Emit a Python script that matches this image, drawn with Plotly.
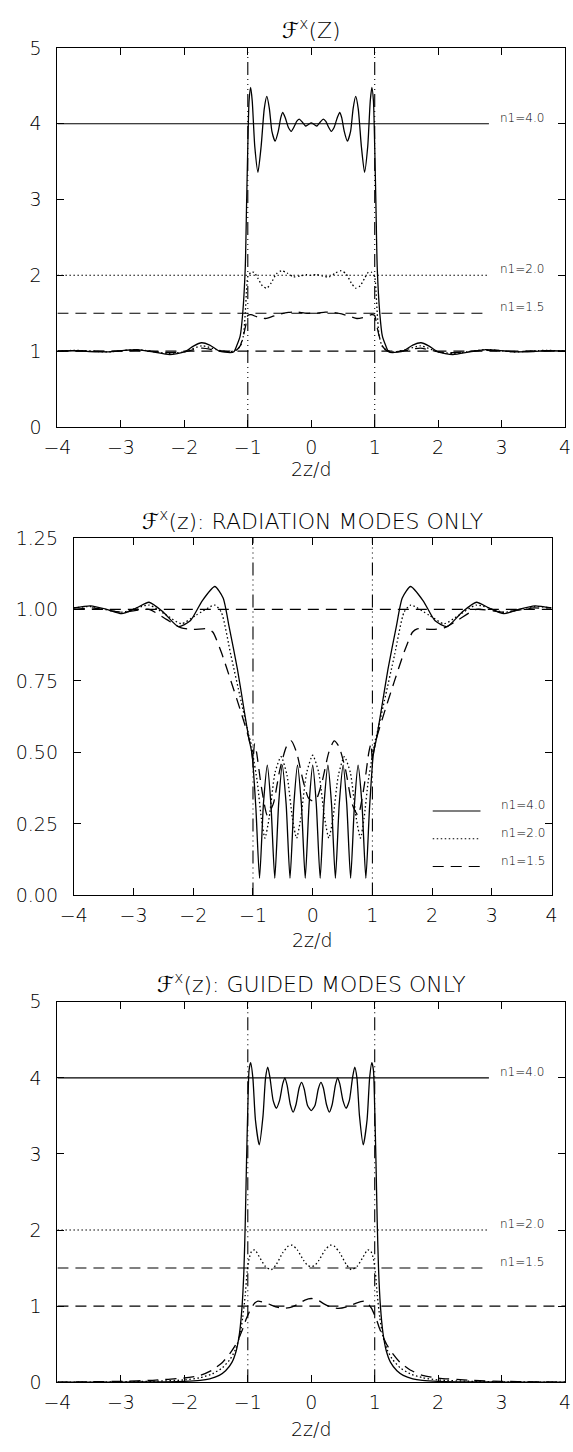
import plotly.graph_objects as go

# ---------------- data ----------------
x_ticks = [-4, -3, -2, -1, 0, 1, 2, 3, 4]
core_edges = [-1.0, 1.0]
n1_labels = ["n1=4.0", "n1=2.0", "n1=1.5"]
n1_values = [4.0, 2.0, 1.5]
vacuum_level = 1.0

# Panel 1: total F^x(z)
p1_x_n40 = [-4.0, -3.75, -3.5, -3.2, -2.95, -2.75, -2.5, -2.23, -2.0, -1.85, -1.73, -1.6, -1.45, -1.28,
            -1.22, -1.17, -1.12, -1.08, -1.04, -1.02, -1.0, -0.98, -0.955, -0.93, -0.89, -0.84, -0.79,
            -0.74, -0.70, -0.66, -0.62, -0.57, -0.52, -0.48, -0.45, -0.41, -0.36, -0.315, -0.27, -0.23,
            -0.19, -0.14, -0.09, -0.045, 0.0,
            0.045, 0.09, 0.14, 0.19, 0.23, 0.27, 0.315, 0.36, 0.41, 0.45, 0.48, 0.52, 0.57, 0.62, 0.66,
            0.70, 0.74, 0.79, 0.84, 0.89, 0.93, 0.955, 0.98, 1.0, 1.02, 1.04, 1.08, 1.12, 1.17, 1.22,
            1.28, 1.45, 1.6, 1.73, 1.85, 2.0, 2.23, 2.5, 2.75, 2.95, 3.2, 3.5, 3.75, 4.0]
p1_y_n40 = [1.0, 1.005, 0.995, 0.99, 1.01, 1.02, 0.99, 0.955, 0.99, 1.07, 1.11, 1.08, 1.0, 0.98,
            0.99, 1.08, 1.2, 1.5, 2.1, 2.9, 3.7, 4.3, 4.48, 4.3, 3.7, 3.36, 3.7,
            4.2, 4.36, 4.2, 3.9, 3.77, 3.9, 4.08, 4.15, 4.08, 3.95, 3.9, 3.96, 4.03,
            4.06, 4.02, 3.97, 3.99, 4.01,
            3.99, 3.97, 4.02, 4.06, 4.03, 3.96, 3.9, 3.95, 4.08, 4.15, 4.08, 3.9, 3.77, 3.9, 4.2,
            4.36, 4.2, 3.7, 3.36, 3.7, 4.3, 4.48, 4.3, 3.7, 2.9, 2.1, 1.5, 1.2, 1.08, 0.99,
            0.98, 1.0, 1.08, 1.11, 1.07, 0.99, 0.955, 0.99, 1.02, 1.01, 0.99, 0.995, 1.005, 1.0]

p1_x_n20 = [-4.0, -3.7, -3.2, -2.75, -2.25, -2.0, -1.72, -1.5, -1.3, -1.2, -1.12, -1.07, -1.04, -1.02,
            -1.0, -0.95, -0.9, -0.84, -0.77, -0.70, -0.63, -0.55, -0.47, -0.38, -0.28, -0.18, -0.08, 0.0,
            0.08, 0.18, 0.28, 0.38, 0.47, 0.55, 0.63, 0.70, 0.77, 0.84, 0.9, 0.95, 1.0,
            1.02, 1.04, 1.07, 1.12, 1.2, 1.3, 1.5, 1.72, 2.0, 2.25, 2.75, 3.2, 3.7, 4.0]
p1_y_n20 = [1.0, 1.01, 0.99, 1.02, 0.97, 0.99, 1.07, 1.02, 0.99, 1.01, 1.06, 1.2, 1.5, 1.8,
            1.98, 2.04, 2.04, 1.96, 1.86, 1.83, 1.9, 2.02, 2.06, 2.03, 1.98, 1.99, 2.01, 2.0,
            2.01, 1.99, 1.98, 2.03, 2.06, 2.02, 1.9, 1.83, 1.86, 1.96, 2.04, 2.04, 1.98,
            1.8, 1.5, 1.2, 1.06, 1.01, 0.99, 1.02, 1.07, 0.99, 0.97, 1.02, 0.99, 1.01, 1.0]

p1_x_n15 = [-4.0, -3.7, -3.2, -2.75, -2.25, -2.0, -1.72, -1.5, -1.3, -1.2, -1.12, -1.07, -1.03, -1.0,
            -0.95, -0.85, -0.72, -0.6, -0.48, -0.36, -0.22, -0.1, 0.0,
            0.1, 0.22, 0.36, 0.48, 0.6, 0.72, 0.85, 0.95,
            1.0, 1.03, 1.07, 1.12, 1.2, 1.3, 1.5, 1.72, 2.0, 2.25, 2.75, 3.2, 3.7, 4.0]
p1_y_n15 = [1.0, 1.005, 0.995, 1.01, 0.98, 0.99, 1.04, 1.01, 0.99, 1.0, 1.07, 1.2, 1.35, 1.47,
            1.48, 1.45, 1.43, 1.46, 1.49, 1.51, 1.515, 1.5, 1.5,
            1.5, 1.515, 1.51, 1.49, 1.46, 1.43, 1.45, 1.48,
            1.47, 1.35, 1.2, 1.07, 1.0, 0.99, 1.01, 1.04, 0.99, 0.98, 1.01, 0.995, 1.005, 1.0]

# Panel 2: radiation modes only
p2_x_n40 = [-4.0, -3.72, -3.45, -3.2, -2.95, -2.74, -2.5, -2.25, -2.05, -1.85, -1.64, -1.5, -1.4, -1.26,
            -1.15, -1.07, -1.02, -1.0, -0.95, -0.89, -0.825, -0.76, -0.70, -0.635, -0.57, -0.51,
            -0.445, -0.38, -0.315, -0.255, -0.19, -0.125, -0.06, 0.0,
            0.06, 0.125, 0.19, 0.255, 0.315, 0.38, 0.445, 0.51, 0.57, 0.635, 0.70, 0.76, 0.825,
            0.89, 0.95, 1.0, 1.02, 1.07, 1.15, 1.26, 1.4, 1.5, 1.64, 1.85, 2.05, 2.25, 2.5, 2.74,
            2.95, 3.2, 3.45, 3.72, 4.0]
p2_y_n40 = [1.005, 1.012, 1.0, 0.985, 1.005, 1.025, 0.99, 0.94, 0.96, 1.03, 1.08, 1.04, 0.94, 0.79,
            0.65, 0.55, 0.5, 0.46, 0.3, 0.06, 0.32, 0.455, 0.32, 0.06, 0.32, 0.455,
            0.32, 0.06, 0.32, 0.455, 0.32, 0.06, 0.32, 0.455,
            0.32, 0.06, 0.32, 0.455, 0.32, 0.06, 0.32, 0.455, 0.32, 0.06, 0.32, 0.455, 0.32,
            0.06, 0.3, 0.46, 0.5, 0.55, 0.65, 0.79, 0.94, 1.04, 1.08, 1.03, 0.96, 0.94, 0.99, 1.025,
            1.005, 0.985, 1.0, 1.012, 1.005]

p2_x_n20 = [-4.0, -3.72, -3.2, -2.74, -2.45, -2.2, -1.95, -1.64, -1.53, -1.37, -1.2, -1.07, -1.02,
            -1.0, -0.93, -0.86, -0.8, -0.73, -0.63, -0.53, -0.43, -0.34, -0.27, -0.2, -0.1, 0.0,
            0.1, 0.2, 0.27, 0.34, 0.43, 0.53, 0.63, 0.73, 0.8, 0.86, 0.93, 1.0,
            1.02, 1.07, 1.2, 1.37, 1.53, 1.64, 1.95, 2.2, 2.45, 2.74, 3.2, 3.72, 4.0]
p2_y_n20 = [1.005, 1.01, 0.99, 1.015, 0.98, 0.95, 0.98, 1.015, 0.99, 0.84, 0.68, 0.56, 0.52,
            0.49, 0.4, 0.27, 0.2, 0.27, 0.43, 0.485, 0.42, 0.27, 0.2, 0.27, 0.43, 0.49,
            0.43, 0.27, 0.2, 0.27, 0.42, 0.485, 0.43, 0.27, 0.2, 0.27, 0.4, 0.49,
            0.52, 0.56, 0.68, 0.84, 0.99, 1.015, 0.98, 0.95, 0.98, 1.015, 0.99, 1.01, 1.005]

p2_x_n15 = [-4.0, -3.7, -3.2, -2.74, -2.45, -2.2, -2.0, -1.75, -1.67, -1.53, -1.37, -1.2, -1.07, -1.02,
            -1.0, -0.975, -0.94, -0.86, -0.76, -0.66, -0.55, -0.44, -0.36, -0.27, -0.16, -0.07, 0.0,
            0.07, 0.16, 0.27, 0.36, 0.44, 0.55, 0.66, 0.76, 0.86, 0.94, 0.975, 1.0,
            1.02, 1.07, 1.2, 1.37, 1.53, 1.67, 1.75, 2.0, 2.2, 2.45, 2.74, 3.2, 3.7, 4.0]
p2_y_n15 = [1.0, 1.005, 0.99, 1.0, 0.965, 0.935, 0.93, 0.932, 0.92, 0.85, 0.75, 0.64, 0.55, 0.5,
            0.47, 0.53, 0.5, 0.38, 0.28, 0.32, 0.44, 0.52, 0.54, 0.5, 0.4, 0.34, 0.33,
            0.34, 0.4, 0.5, 0.54, 0.52, 0.44, 0.32, 0.28, 0.38, 0.5, 0.53, 0.47,
            0.5, 0.55, 0.64, 0.75, 0.85, 0.92, 0.932, 0.93, 0.935, 0.965, 1.0, 0.99, 1.005, 1.0]

# Panel 3: guided modes only
p3_x_n40 = [-4.0, -3.0, -2.5, -2.0, -1.75, -1.6, -1.45, -1.35, -1.25, -1.18, -1.13, -1.09, -1.06, -1.04,
            -1.02, -1.0, -0.98, -0.955, -0.92, -0.88, -0.82, -0.76, -0.72, -0.685, -0.65, -0.6, -0.55,
            -0.5, -0.45, -0.416, -0.38, -0.33, -0.285, -0.24, -0.19, -0.152, -0.11, -0.06, 0.0,
            0.06, 0.11, 0.152, 0.19, 0.24, 0.285, 0.33, 0.38, 0.416, 0.45, 0.5, 0.55, 0.6, 0.65,
            0.685, 0.72, 0.76, 0.82, 0.88, 0.92, 0.955, 0.98, 1.0, 1.02, 1.04, 1.06, 1.09, 1.13,
            1.18, 1.25, 1.35, 1.45, 1.6, 1.75, 2.0, 2.5, 3.0, 4.0]
p3_y_n40 = [0.0, 0.002, 0.005, 0.012, 0.025, 0.045, 0.09, 0.15, 0.26, 0.42, 0.65, 1.0, 1.5, 2.1,
            2.9, 3.6, 4.1, 4.2, 4.0, 3.45, 3.12, 3.5, 4.0, 4.14, 4.0, 3.7, 3.6,
            3.7, 3.92, 4.0, 3.9, 3.65, 3.55, 3.65, 3.87, 3.94, 3.85, 3.64, 3.57,
            3.64, 3.85, 3.94, 3.87, 3.65, 3.55, 3.65, 3.9, 4.0, 3.92, 3.7, 3.6, 3.7, 4.0,
            4.14, 4.0, 3.5, 3.12, 3.45, 4.0, 4.2, 4.1, 3.6, 2.9, 2.1, 1.5, 1.0, 0.65,
            0.42, 0.26, 0.15, 0.09, 0.045, 0.025, 0.012, 0.005, 0.002, 0.0]

p3_x_n20 = [-4.0, -3.0, -2.5, -2.0, -1.75, -1.56, -1.4, -1.28, -1.2, -1.13, -1.08, -1.04, -1.01, -0.98,
            -0.94, -0.89, -0.82, -0.72, -0.63, -0.55, -0.45, -0.36, -0.3, -0.22, -0.12, -0.05, 0.0,
            0.05, 0.12, 0.22, 0.3, 0.36, 0.45, 0.55, 0.63, 0.72, 0.82, 0.89, 0.94,
            0.98, 1.01, 1.04, 1.08, 1.13, 1.2, 1.28, 1.4, 1.56, 1.75, 2.0, 2.5, 3.0, 4.0]
p3_y_n20 = [0.0, 0.005, 0.012, 0.03, 0.06, 0.11, 0.19, 0.3, 0.42, 0.6, 0.85, 1.15, 1.45, 1.62,
            1.72, 1.74, 1.65, 1.52, 1.48, 1.55, 1.7, 1.79, 1.8, 1.74, 1.6, 1.53, 1.52,
            1.53, 1.6, 1.74, 1.8, 1.79, 1.7, 1.55, 1.48, 1.52, 1.65, 1.74, 1.72,
            1.62, 1.45, 1.15, 0.85, 0.6, 0.42, 0.3, 0.19, 0.11, 0.06, 0.03, 0.012, 0.005, 0.0]

p3_x_n15 = [-4.0, -3.5, -3.0, -2.5, -2.0, -1.75, -1.56, -1.4, -1.28, -1.2, -1.13, -1.07, -1.03, -1.0,
            -0.95, -0.89, -0.84, -0.71, -0.56, -0.43, -0.3, -0.2, -0.1, 0.0,
            0.1, 0.2, 0.3, 0.43, 0.56, 0.71, 0.84, 0.89, 0.95,
            1.0, 1.03, 1.07, 1.13, 1.2, 1.28, 1.4, 1.56, 1.75, 2.0, 2.5, 3.0, 3.5, 4.0]
p3_y_n15 = [0.0, 0.005, 0.012, 0.025, 0.055, 0.09, 0.16, 0.26, 0.38, 0.48, 0.6, 0.72, 0.82, 0.88,
            0.97, 1.04, 1.065, 1.04, 0.99, 0.97, 0.99, 1.03, 1.08, 1.1,
            1.08, 1.03, 0.99, 0.97, 0.99, 1.04, 1.065, 1.04, 0.97,
            0.88, 0.82, 0.72, 0.6, 0.48, 0.38, 0.26, 0.16, 0.09, 0.055, 0.025, 0.012, 0.005, 0.0]

SCRIPT_F = "<span style=\"font-family:'DejaVu Sans';font-weight:400\">\u2131</span>"
panel_titles = [SCRIPT_F + "<sup>x</sup>(Z)",
                SCRIPT_F + "<sup>x</sup>(z): RADIATION MODES ONLY",
                SCRIPT_F + "<sup>x</sup>(z): GUIDED MODES ONLY"]
x_title = "2z/d"

# ---------------- styling ----------------
FONT = "DejaVu Sans, Liberation Sans, sans-serif"
FW = 200
DASH = "11px,7px"
DOT = "1.5px,2.5px"
DASHDOT3 = "13px,4px,1px,4px,1px,4px,1px,4px"
styles = {"n40": "solid", "n20": DOT, "n15": DASH}
W, H = 573, 1452

fig = go.Figure()


def curve(x, y, dash, ax, width=1.3, shape="spline"):
    fig.add_trace(go.Scatter(
        x=x, y=y, mode="lines", xaxis="x" + ax, yaxis="y" + ax,
        line=dict(color="black", width=width, dash=dash, shape=shape, smoothing=0.6),
        showlegend=False, hoverinfo="skip"))


ref_end = 2.8

# Panel 1
for lvl, dsh in zip(n1_values, ["solid", DOT, DASH]):
    curve([-4, ref_end], [lvl, lvl], dsh, "", width=1.1, shape="linear")
curve([-4, 4], [vacuum_level, vacuum_level], DASH, "", width=1.1, shape="linear")
curve(p1_x_n40, p1_y_n40, styles["n40"], "")
curve(p1_x_n20, p1_y_n20, styles["n20"], "")
curve(p1_x_n15, p1_y_n15, styles["n15"], "")

# Panel 2
curve([-4, 4], [vacuum_level, vacuum_level], DASH, "2", width=1.1, shape="linear")
curve(p2_x_n40, p2_y_n40, styles["n40"], "2")
curve(p2_x_n20, p2_y_n20, styles["n20"], "2")
curve(p2_x_n15, p2_y_n15, styles["n15"], "2")

# Panel 3
for lvl, dsh in zip(n1_values, ["solid", DOT, DASH]):
    curve([-4, ref_end], [lvl, lvl], dsh, "3", width=1.1, shape="linear")
curve([-4, 4], [vacuum_level, vacuum_level], DASH, "3", width=1.1, shape="linear")
curve(p3_x_n40, p3_y_n40, styles["n40"], "3")
curve(p3_x_n20, p3_y_n20, styles["n20"], "3")
curve(p3_x_n15, p3_y_n15, styles["n15"], "3")

shapes = []
for ax in ["", "2", "3"]:
    for e in core_edges:
        shapes.append(dict(type="line", xref="x" + ax, yref=("y" + ax) + " domain",
                           x0=e, x1=e, y0=0, y1=1,
                           line=dict(color="black", width=1.1, dash=DASHDOT3)))

# legend of panel 2
leg_y = [0.295, 0.198, 0.101]
for yy, dsh in zip(leg_y, ["solid", DOT, DASH]):
    shapes.append(dict(type="line", xref="x2", yref="y2", x0=2.01, x1=2.81, y0=yy, y1=yy,
                       line=dict(color="black", width=1.1, dash=dsh)))

annotations = []
small_font = dict(family=FONT, size=12, color="black", weight=FW)
for txt, lvl in zip(n1_labels, n1_values):
    for ax in ["", "3"]:
        annotations.append(dict(text=txt, x=2.95, y=lvl, xref="x" + ax, yref="y" + ax,
                                xanchor="left", yanchor="bottom", yshift=-3, showarrow=False,
                                font=small_font))
for txt, yy in zip(n1_labels, leg_y):
    annotations.append(dict(text=txt, x=3.12, y=yy, xref="x2", yref="y2",
                            xanchor="left", yanchor="bottom", yshift=-3, showarrow=False,
                            font=small_font))

dom_wide = [45 / W, 571 / W]
dom_mid = [62 / W, 557 / W]
ydoms = [[1 - 422.3 / H, 1 - 37.5 / H], [1 - 898 / H, 1 - 535 / H], [1 - 1392.3 / H, 1 - 1006 / H]]
title_px = [18, 517, 987]
xtitle_px = [465, 943, 1440]
xdoms = [dom_wide, dom_mid, dom_wide]
for i in range(3):
    annotations.append(dict(text=panel_titles[i], x=sum(xdoms[i]) / 2, y=1 - title_px[i] / H,
                            xref="paper", yref="paper", xanchor="center", yanchor="middle",
                            showarrow=False, font=dict(family=FONT, size=22, color="black", weight=FW)))
    annotations.append(dict(text=x_title, x=sum(xdoms[i]) / 2, y=1 - xtitle_px[i] / H,
                            xref="paper", yref="paper", xanchor="center", yanchor="middle",
                            showarrow=False, font=dict(family=FONT, size=19, color="black", weight=FW)))

axis_common = dict(showline=True, linecolor="black", linewidth=1, mirror="ticks", ticks="inside",
                   ticklen=7, tickwidth=1, tickcolor="black", showgrid=False, zeroline=False,
                   tickfont=dict(family=FONT, size=19, color="black", weight=FW))

layout = dict(width=W, height=H, margin=dict(l=0, r=0, t=0, b=0), paper_bgcolor="white",
              plot_bgcolor="white", showlegend=False, shapes=shapes, annotations=annotations)
y_ranges = [[0, 5], [0, 1.25], [0, 5]]
y_ticks = [[0, 1, 2, 3, 4, 5], [0, 0.25, 0.5, 0.75, 1.0, 1.25], [0, 1, 2, 3, 4, 5]]
y_fmt = ["d", ".2f", "d"]
for i, ax in enumerate(["", "2", "3"]):
    layout["xaxis" + ax] = dict(axis_common, domain=xdoms[i], anchor="y" + ax, range=[-4, 4],
                                tickvals=x_ticks, ticklabelstandoff=3)
    layout["yaxis" + ax] = dict(axis_common, domain=ydoms[i], anchor="x" + ax, range=y_ranges[i],
                                tickvals=y_ticks[i], tickformat=y_fmt[i], ticklabelstandoff=11)

fig.update_layout(**layout)
fig.write_html("out.html")
